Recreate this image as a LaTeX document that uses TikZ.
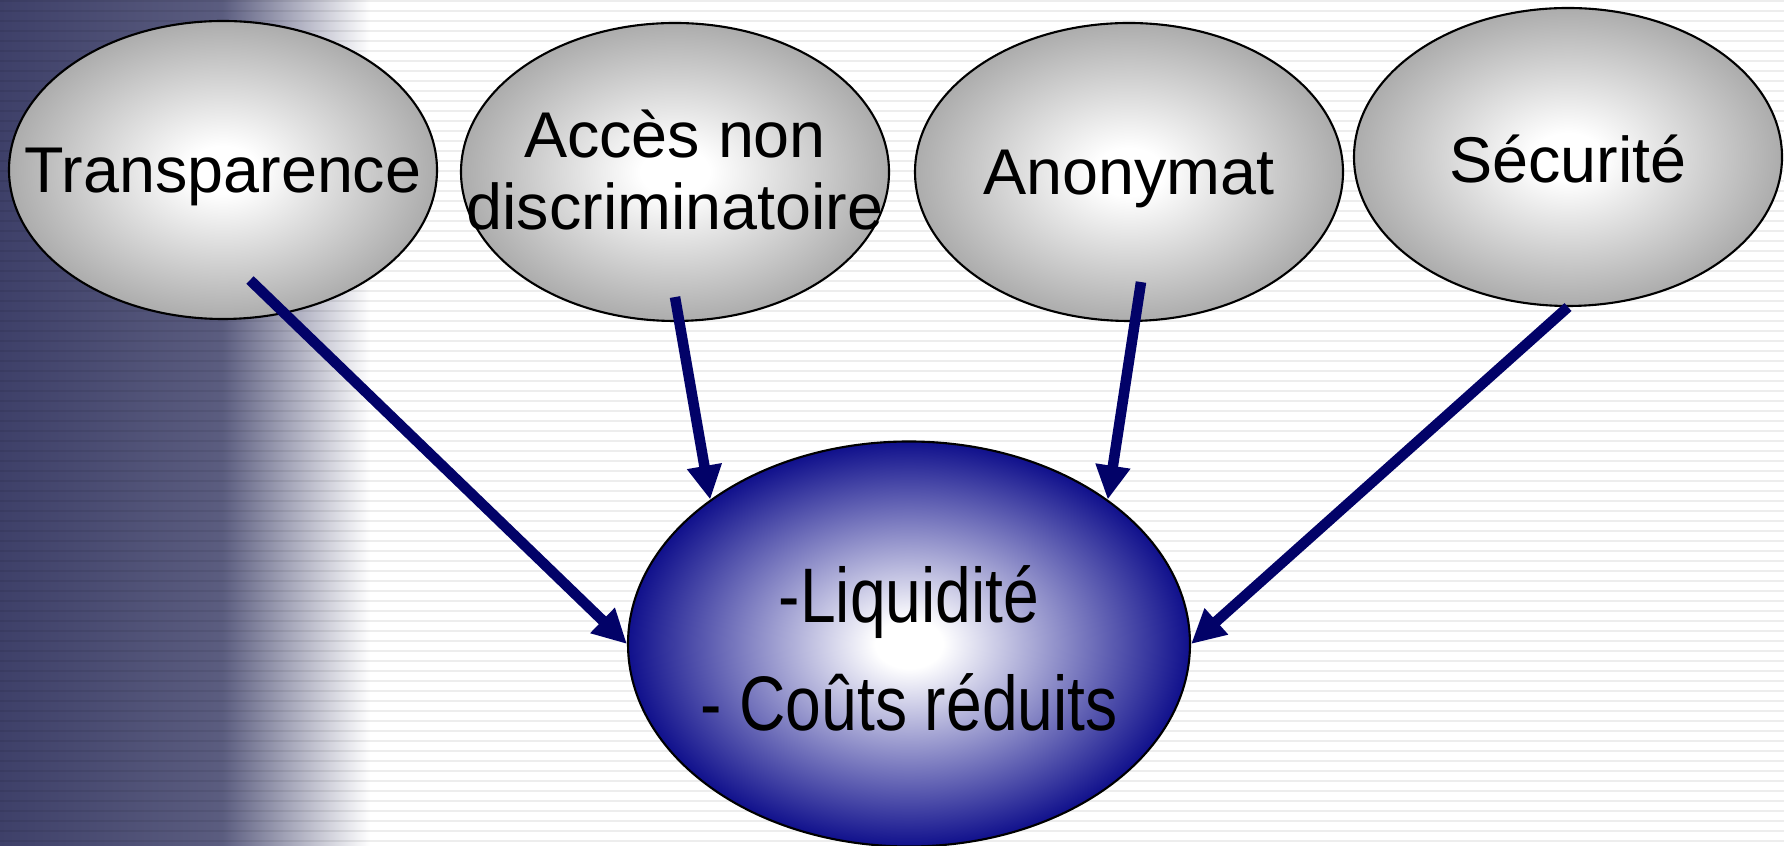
\documentclass[tikz,border=0pt]{standalone}
\usepackage{fontspec}
\setmainfont{Liberation Sans}
\newfontfamily\narrowsans[FakeStretch=0.83]{Liberation Sans}
\usetikzlibrary{shapes.geometric, arrows.meta}

\definecolor{ballgrey}{RGB}{172,172,172}
\definecolor{ballnavy}{RGB}{16,16,140}
\definecolor{arrownavy}{RGB}{2,2,104}
\definecolor{photonavy}{RGB}{62,64,105}
\pgfdeclareradialshading{greyball}{\pgfpoint{0bp}{0bp}}{color(0bp)=(white); color(4bp)=(white); color(25bp)=(ballgrey); color(50bp)=(ballgrey)}
\pgfdeclareradialshading{navyball}{\pgfpoint{0bp}{0bp}}{color(0bp)=(white); color(3bp)=(white); color(25bp)=(ballnavy); color(50bp)=(ballnavy)}
\pgfdeclarehorizontalshading{photofade}{100bp}{color(0bp)=(photonavy); color(25bp)=(photonavy); color(55bp)=(photonavy!85!white); color(75bp)=(white); color(100bp)=(white)}

% text sits a little below the middle of each ellipse
\newcommand{\balltext}[2][0.7mm]{\makebox[0pt]{\raisebox{-#1}[\height][\depth]{#2}}}

\begin{document}
\begin{tikzpicture}[
    ball/.style={draw, ellipse, line width=0.6pt, inner sep=0pt, minimum width=4.28cm, minimum height=2.98cm, shading=greyball, font=\fontsize{18.4}{20.5}\selectfont},
    bigball/.style={draw, ellipse, line width=0.6pt, inner sep=0pt, minimum width=5.62cm, minimum height=4.05cm, shading=navyball, font=\narrowsans\fontsize{22}{30.7}\selectfont},
    arrow/.style={line width=3pt, arrownavy, -{Triangle[length=0.34cm,width=0.33cm]}},
    stripe/.style={black, opacity=0.07, line width=0.6pt}
]
\useasboundingbox (0,0) rectangle (17.84,8.46);
\fill[white] (0,0) rectangle (17.84,8.46);
\shade[shading=photofade] (0,0) rectangle (3.7,8.46);
\foreach \y in {0.05,0.15,...,8.45}
    \draw[stripe] (0,\y) -- (17.84,\y);

\node[ball] (tr) at (2.23,6.76) {\balltext{Transparence}};
\node[ball] (acc) at (6.75,6.74) {\balltext{\begin{tabular}{@{}c@{}}Accès non\\discriminatoire\end{tabular}}};
\node[ball] (ano) at (11.29,6.74) {\balltext{Anonymat}};
\node[ball] (sec) at (15.68,6.89) {\balltext[0.2mm]{Sécurité}};

\node[bigball] (liq) at (9.09,2.02) {\balltext[1.1mm]{\begin{tabular}{@{}c@{}}-Liquidité\\- Coûts réduits\end{tabular}}};

\draw[arrow] ([xshift=0.27cm,yshift=0.40cm]tr.south) -- (liq.west);
\draw[arrow] ([yshift=0.25cm]acc.south) -- (liq.144);
\draw[arrow] ([xshift=0.12cm,yshift=0.40cm]ano.south) -- (liq.36);
\draw[arrow] (sec.south) -- (liq.east);

\end{tikzpicture}
\end{document}
